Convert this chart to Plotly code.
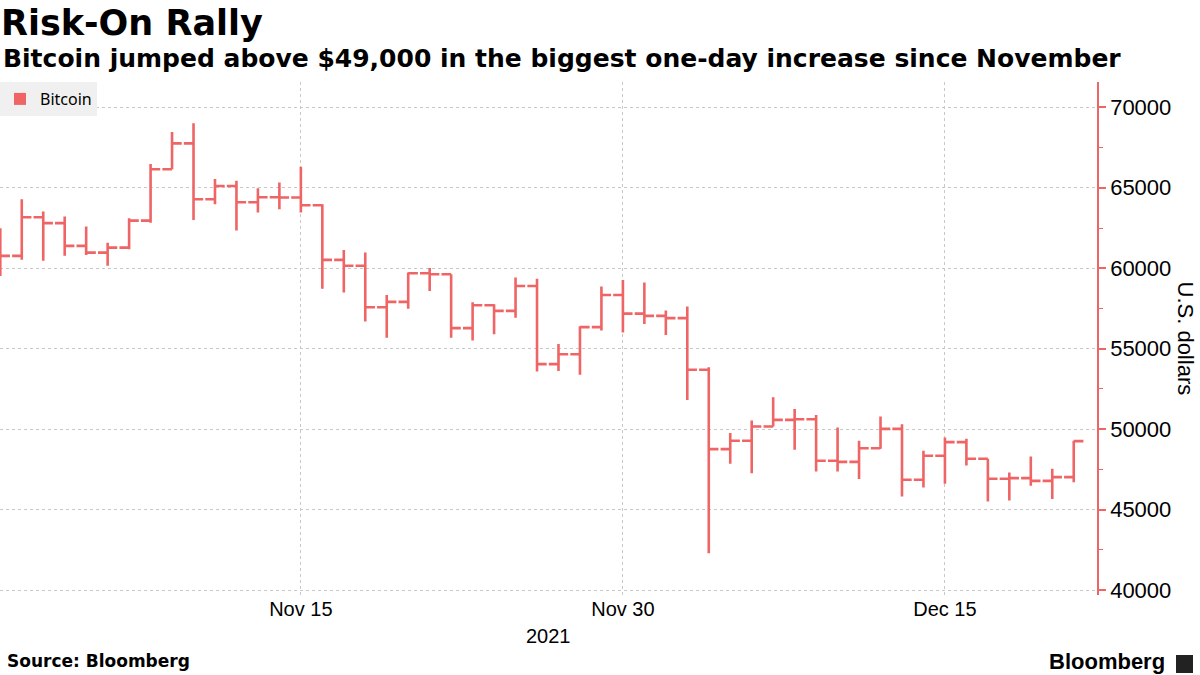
import plotly.graph_objects as go

dates = [
    "2021-11-01", "2021-11-02", "2021-11-03", "2021-11-04", "2021-11-05", "2021-11-06", "2021-11-07",
    "2021-11-08", "2021-11-09", "2021-11-10", "2021-11-11", "2021-11-12", "2021-11-13", "2021-11-14",
    "2021-11-15", "2021-11-16", "2021-11-17", "2021-11-18", "2021-11-19", "2021-11-20", "2021-11-21",
    "2021-11-22", "2021-11-23", "2021-11-24", "2021-11-25", "2021-11-26", "2021-11-27", "2021-11-28",
    "2021-11-29", "2021-11-30", "2021-12-01", "2021-12-02", "2021-12-03", "2021-12-04", "2021-12-05",
    "2021-12-06", "2021-12-07", "2021-12-08", "2021-12-09", "2021-12-10", "2021-12-11", "2021-12-12",
    "2021-12-13", "2021-12-14", "2021-12-15", "2021-12-16", "2021-12-17", "2021-12-18", "2021-12-19",
    "2021-12-20", "2021-12-21",
]
close = [
    60770, 63170, 62800, 61390, 60970, 61280, 62960, 66150, 67760, 64290, 65110, 64100, 64410, 64390,
    63910, 60520, 60150, 57580, 57910, 59690, 59630, 56280, 57700, 57350, 58900, 54040, 54660, 56340,
    58340, 57180, 57040, 56900, 53690, 48760, 49280, 50170, 50580, 50620, 48040, 47970, 48820, 50020,
    46860, 48350, 49200, 48160, 46920, 46960, 46790, 47020, 49260,
]
open_ = [61300] + close[:-1]
high = [
    62490, 64290, 63520, 63210, 62590, 61590, 63110, 66480, 68470, 69010, 65550, 65440, 64970, 65320,
    66310, 63980, 61140, 60970, 58340, 59730, 60020, 59630, 57890, 57770, 59420, 59340, 55290, 56400,
    58860, 59270, 59110, 57370, 57620, 53850, 49760, 50540, 51990, 51250, 50890, 50100, 49280, 50790,
    50310, 48660, 49480, 49400, 48160, 47310, 48300, 47540, 49280,
]
low = [
    59520, 60520, 60460, 60770, 60830, 60150, 61180, 62830, 66150, 63000, 63980, 62340, 63460, 63670,
    63460, 58720, 58490, 56690, 55680, 57480, 58590, 55680, 55510, 55900, 56930, 53580, 53610, 53380,
    56130, 56000, 56540, 55860, 51820, 42300, 47850, 47270, 50170, 48720, 47370, 47370, 46900, 48780,
    45820, 46380, 46610, 47740, 45510, 45570, 46480, 45660, 46710,
]

x_tick_vals = ["2021-11-15", "2021-11-30", "2021-12-15"]
x_tick_text = ["Nov 15", "Nov 30", "Dec 15"]
y_tick_vals = [40000, 45000, 50000, 55000, 60000, 65000, 70000]

RED = "#ef6464"

fig = go.Figure()
fig.add_trace(go.Ohlc(
    x=dates, open=open_, high=high, low=low, close=close,
    increasing=dict(line=dict(color=RED, width=2.6)),
    decreasing=dict(line=dict(color=RED, width=2.6)),
    tickwidth=0.45, showlegend=False, hoverinfo="skip", name="Bitcoin",
))
fig.add_trace(go.Scatter(
    x=[None], y=[None], mode="markers", name="Bitcoin",
    marker=dict(symbol="square", color=RED, size=11), showlegend=True,
))

fig.update_layout(
    width=1200, height=675,
    paper_bgcolor="white", plot_bgcolor="white",
    margin=dict(l=0, r=103, t=82, b=80),
    font=dict(family="Liberation Sans, Arial, sans-serif", color="#000000"),
    showlegend=True,
    legend=dict(
        x=0, y=1, xanchor="left", yanchor="top", bgcolor="#f0f0f0",
        font=dict(size=16, family="Noto Sans, DejaVu Sans, sans-serif"),
        itemsizing="constant", borderwidth=0, itemwidth=30,
    ),
    xaxis=dict(
        type="date",
        range=["2021-10-31 23:40", "2021-12-22 02:00"],
        rangeslider=dict(visible=False),
        tickvals=x_tick_vals, ticktext=x_tick_text,
        showgrid=True, gridcolor="#c8c8c8", griddash="dot", gridwidth=1,
        showline=False, zeroline=False, ticks="",
        tickfont=dict(size=20, family="Liberation Sans Narrow, Liberation Sans, Arial"),
    ),
    yaxis=dict(
        side="right",
        range=[39700, 71570],
        tickvals=y_tick_vals, tickformat="d",
        showgrid=True, gridcolor="#c8c8c8", griddash="dot", gridwidth=1,
        showline=True, linecolor=RED, linewidth=1.5,
        ticks="outside", ticklen=7, tickwidth=2, tickcolor=RED,
        minor=dict(dtick=2500, ticks="outside", ticklen=4, tickcolor=RED, tickwidth=1, showgrid=False),
        tickfont=dict(size=22, family="Liberation Sans, Arial"),
        zeroline=False,
    ),
    title=None,
)

fig.add_annotation(text="<b>Risk-On Rally</b>", xref="paper", yref="paper", x=0, y=1,
                   xanchor="left", yanchor="top", showarrow=False, yshift=82 - 1,
                   font=dict(size=35, family="DejaVu Sans", color="#000"), xshift=-1)
fig.add_annotation(text="<b>Bitcoin jumped above $49,000 in the biggest one-day increase since November</b>",
                   xref="paper", yref="paper", x=0, y=1, xanchor="left", yanchor="top", showarrow=False,
                   yshift=82 - 42, font=dict(size=25, family="DejaVu Sans", color="#000"), xshift=1)
fig.add_annotation(text="U.S. dollars", xref="paper", yref="paper", x=1, y=0.5, xanchor="center",
                   yanchor="middle", showarrow=False, textangle=90, xshift=88,
                   font=dict(size=22, family="Liberation Sans, Arial", color="#000"))
fig.add_annotation(text="2021", xref="paper", yref="paper", x=0.5, y=0, xanchor="center", yanchor="top",
                   showarrow=False, yshift=-28,
                   font=dict(size=20, family="Liberation Sans Narrow, Liberation Sans, Arial", color="#000"))
fig.add_annotation(text="<b>Source: Bloomberg</b>", xref="paper", yref="paper", x=0, y=0,
                   xanchor="left", yanchor="top", showarrow=False, yshift=-54, xshift=5,
                   font=dict(size=17, family="DejaVu Sans", color="#000"))
fig.add_annotation(text="<b>Bloomberg</b>", xref="paper", yref="paper", x=1, y=0,
                   xanchor="right", yanchor="top", showarrow=False, yshift=-52, xshift=70,
                   font=dict(size=22, family="Liberation Sans, Arial", color="#000"))
fig.add_shape(type="rect", xref="paper", yref="paper",
              xsizemode="pixel", ysizemode="pixel", xanchor=1, yanchor=0,
              x0=79, x1=96, y0=-60, y1=-78, line=dict(width=0), fillcolor="#222")

fig.write_html("out.html", config={"displayModeBar": False},
               post_script="document.body.style.margin='0';document.body.style.padding='0';")
